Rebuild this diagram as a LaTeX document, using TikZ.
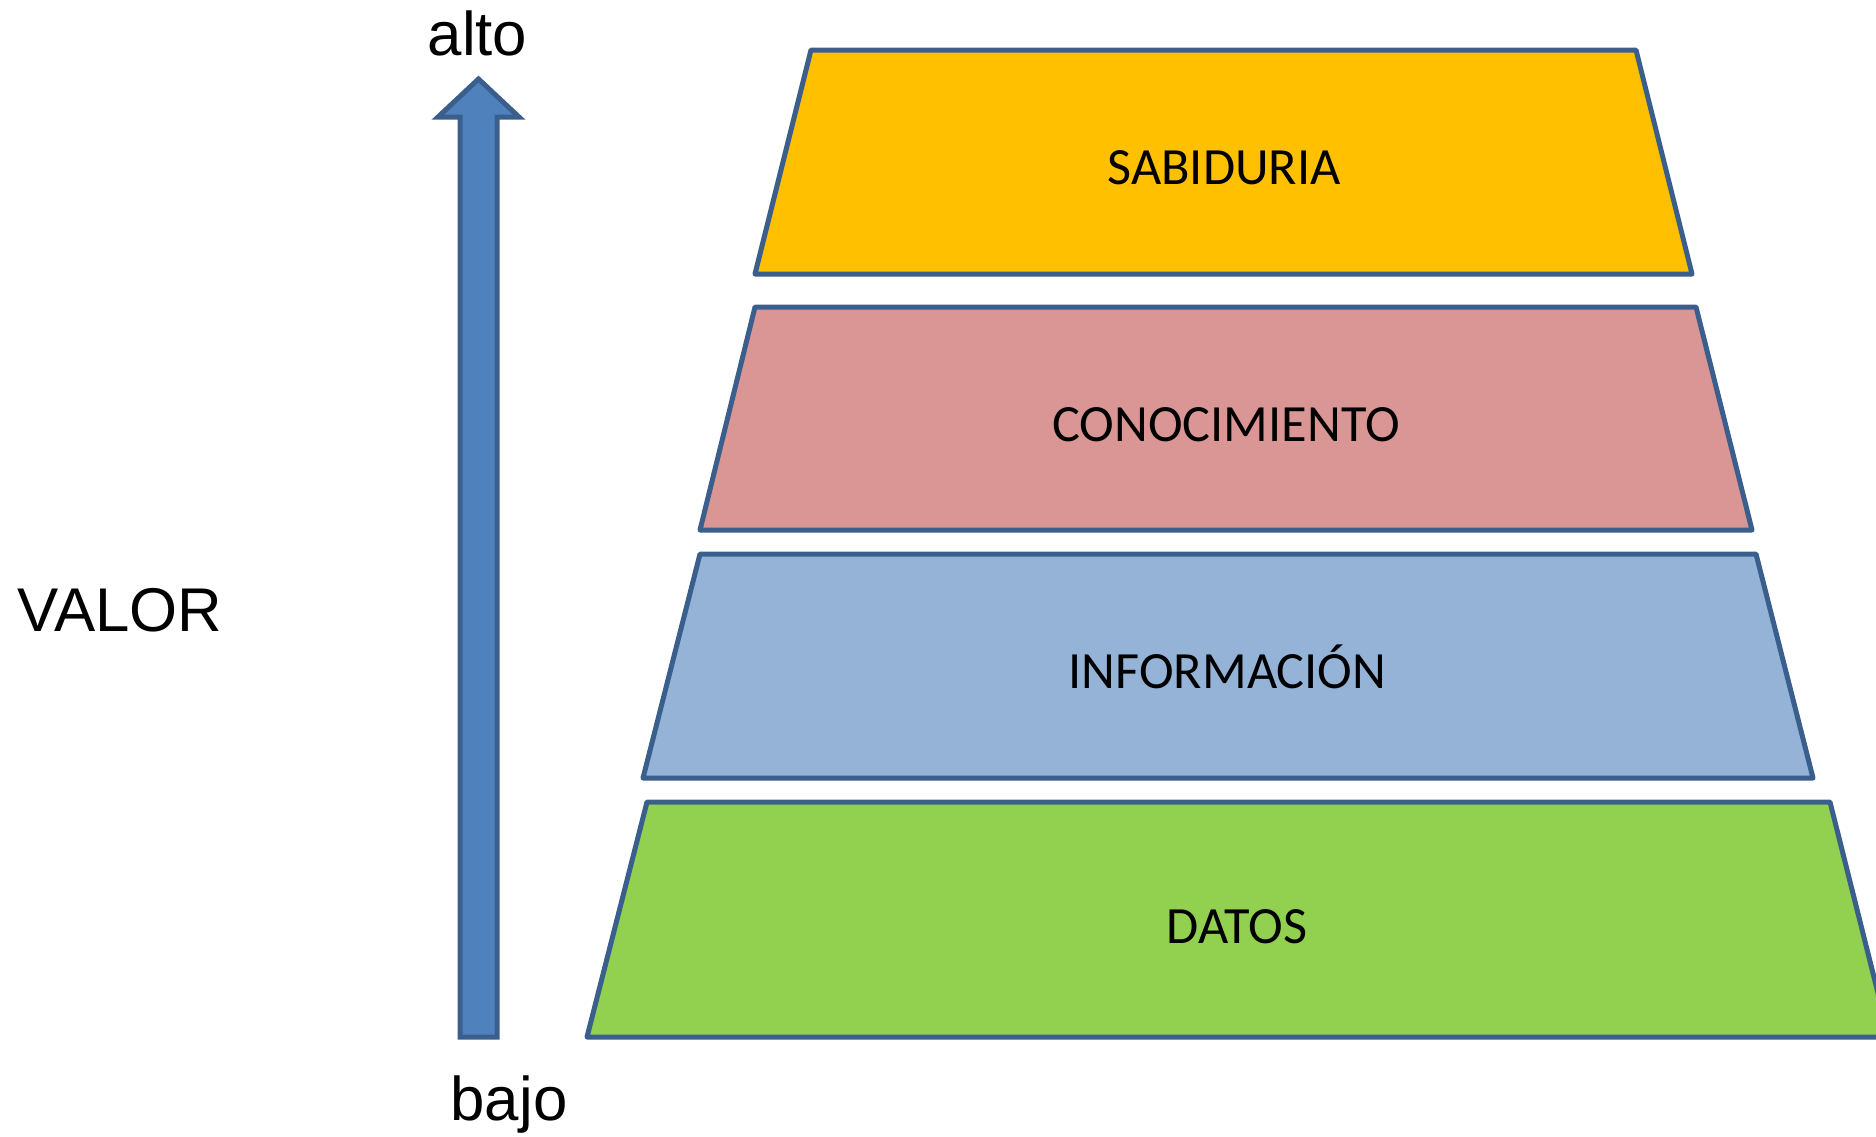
\documentclass[tikz,border=0pt]{standalone}
\usepackage{fontspec}
\setmainfont{Liberation Sans}
\newfontfamily\boxfont{Carlito}
\definecolor{edgeblue}{HTML}{3A5F8D}
\definecolor{arrowfill}{HTML}{4F81BD}
\definecolor{sabfill}{HTML}{FFC000}
\definecolor{conofill}{HTML}{D99694}
\definecolor{infofill}{HTML}{95B3D7}
\definecolor{datfill}{HTML}{92D050}
\begin{document}
\begin{tikzpicture}[x=1bp,y=-1bp,
  layer/.style={draw=edgeblue,line width=5bp,line join=round},
  layertext/.style={font=\boxfont\fontsize{52.5}{60}\selectfont,anchor=base,inner sep=0pt},
  sidetext/.style={font=\fontsize{62}{72}\selectfont,anchor=base,inner sep=0pt}]
\clip (0,0) rectangle (1876,1136);
\useasboundingbox (0,0) rectangle (1876,1136);
% value arrow
\draw[fill=arrowfill,draw=edgeblue,line width=5bp,line join=miter]
  (460,1037) -- (460,117) -- (438,117) -- (478.5,79) -- (519,117) -- (497,117) -- (497,1037) -- cycle;
% layers
\draw[layer,fill=sabfill]  (811,50)  -- (1636,50)  -- (1692,274) -- (755,274) -- cycle;
\draw[layer,fill=conofill] (755,307) -- (1696,307) -- (1752,530) -- (700,530) -- cycle;
\draw[layer,fill=infofill] (700,554) -- (1756,554) -- (1813,778) -- (643,778) -- cycle;
\draw[layer,fill=datfill]  (647,802) -- (1830,802) -- (1889,1037) -- (587,1037) -- cycle;
% layer labels
\node[layertext] (sab)  at (1224,184) {SABIDURIA};
\node[layertext] (cono) at (1226,441.5) {CONOCIMIENTO};
\node[layertext] (info) at (1227.5,688) {INFORMACIÓN};
\node[layertext] (dat)  at (1237,943) {DATOS};
% side labels
\node[sidetext] (alto)  at (477.5,55) {alto};
\node[sidetext] (bajo)  at (509,1120.5) {bajo};
\node[sidetext] (valor) at (120,631) {VALOR};
\end{tikzpicture}
\end{document}
